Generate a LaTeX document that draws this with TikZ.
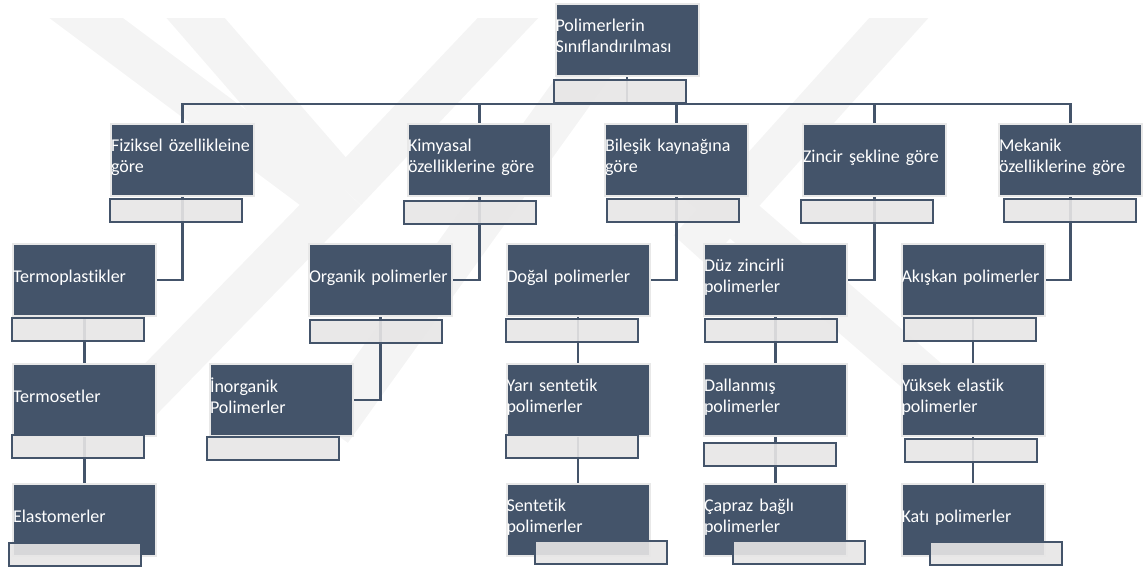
\documentclass[tikz,border=0pt]{standalone}
\usepackage{fontspec}
\setmainfont[Ligatures=NoCommon]{Carlito}
\usetikzlibrary{positioning}
\definecolor{boxblue}{HTML}{44546A}
\definecolor{barfill}{HTML}{E7E6E6}
\definecolor{boxedge}{HTML}{E8E8E8}
\definecolor{wmark}{HTML}{F4F4F4}
\pgfdeclarelayer{background}
\pgfsetlayers{background,main}
\tikzstyle{boxnode} = [rectangle, fill=boxblue, draw=boxedge, line width=2pt, minimum width=143pt, minimum height=72pt, text width=143pt, inner xsep=0pt, inner ysep=0pt, align=left, text=white, font=\fontsize{18}{21}\selectfont, execute at begin node={\hyphenpenalty=10000\hbadness=10000\hfuzz=20pt}, execute at end node={\rule[-8pt]{0pt}{1pt}}]
\tikzstyle{barnode} = [rectangle, fill=barfill, fill opacity=0.9, draw=boxblue, line width=2pt, minimum width=132pt, minimum height=23pt, inner sep=0pt]
\tikzstyle{link} = [draw=boxblue, line width=2.5pt]
\tikzstyle{wm} = [draw=wmark, line width=44pt]

\begin{document}
\begin{tikzpicture}[x=1pt, y=-1pt]
            \useasboundingbox (0,0) rectangle (1145,571);
            \begin{pgfonlayer}{background}
            \begin{scope}
            \clip (0,18) rectangle (1145,571);
            \draw[wm] (62,0) -- (330,200);
            \draw[wm] (180,0) -- (345,190);
            \draw[wm] (525,0) -- (345,190);
            \draw[wm] (345,190) -- (140,400);
            \draw[wm] (610,40) -- (330,430);
            \draw[wm] (915,0) -- (690,250);
            \draw[wm] (650,140) -- (950,400);
            \end{scope}
            \end{pgfonlayer}
            % top
            \node [boxnode] at (627,39.5) (root) {Polimerlerin\\Sınıflandırılması};
            \node [barnode, below right=2pt and -2pt of root.south west] (rootbar) {};
            % level 1
            \node [boxnode] at (182.5,160) (fiz) {Fiziksel özellikleine\\göre};
            \node [boxnode] at (479.5,160) (kim) {Kimyasal\\özelliklerine göre};
            \node [boxnode] at (676.5,160) (bil) {Bileşik kaynağına\\göre};
            \node [boxnode] at (874.5,160) (zin) {Zincir şekline göre};
            \node [boxnode] at (1070.5,160) (mek) {Mekanik\\özelliklerine göre};
            \node [barnode, below right=1pt and -1pt of fiz.south west] (fizbar) {};
            \node [barnode, below right=3pt and -4pt of kim.south west] (kimbar) {};
            \node [barnode, below right=1pt and 2pt of bil.south west] (bilbar) {};
            \node [barnode, below right=2pt and -2pt of zin.south west] (zinbar) {};
            \node [barnode, below right=1pt and 5pt of mek.south west] (mekbar) {};
            % level 2
            \node [boxnode] at (84.5,280) (tp) {Termoplastikler};
            \node [boxnode] at (380.5,280) (org) {Organik polimerler};
            \node [boxnode] at (578,280) (dog) {Doğal polimerler};
            \node [boxnode] at (775.5,280) (duz) {Düz zincirli\\polimerler};
            \node [boxnode] at (973,280) (aki) {Akışkan polimerler};
            \node [barnode, below right=0pt and -1pt of tp.south west] (tpbar) {};
            \node [barnode, below right=2pt and 1pt of org.south west] (orgbar) {};
            \node [barnode, below right=1pt and -1pt of dog.south west] (dogbar) {};
            \node [barnode, below right=1pt and 1pt of duz.south west] (duzbar) {};
            \node [barnode, below right=0pt and 2pt of aki.south west] (akibar) {};
            % level 3
            \node [boxnode] at (84.5,400) (ts) {Termosetler};
            \node [boxnode] at (281.5,400) (ino) {İnorganik\\Polimerler};
            \node [boxnode] at (578,400) (yari) {Yarı sentetik\\polimerler};
            \node [boxnode] at (775.5,400) (dal) {Dallanmış\\polimerler};
            \node [boxnode] at (973,400) (yuk) {Yüksek elastik\\polimerler};
            \node [barnode, below right=-3pt and -1pt of ts.south west] (tsbar) {};
            \node [barnode, below right=-1pt and -3pt of ino.south west] (inobar) {};
            \node [barnode, below right=-3pt and -1pt of yari.south west] (yaribar) {};
            \node [barnode, below right=5pt and 0pt of dal.south west] (dalbar) {};
            \node [barnode, below right=1pt and 3pt of yuk.south west] (yukbar) {};
            % level 4
            \node [boxnode] at (84.5,520) (ela) {Elastomerler};
            \node [boxnode] at (578,520) (sen) {Sentetik\\polimerler};
            \node [boxnode] at (775.5,520) (cap) {Çapraz bağlı\\polimerler};
            \node [boxnode] at (973,520) (kat) {Katı polimerler};
            \node [barnode, below right=-15pt and -4pt of ela.south west] (elabar) {};
            \node [barnode, below right=-17pt and 28pt of sen.south west] (senbar) {};
            \node [barnode, below right=-17pt and 29pt of cap.south west] (capbar) {};
            \node [barnode, below right=-16pt and 28pt of kat.south west] (katbar) {};
            \coordinate (hub) at (627,104);
            \begin{pgfonlayer}{background}
            \draw [link] (root.center) -- (hub);
            \draw [link] (fiz.center) |- (hub) -| (mek.center);
            \draw [link] (kim.center) -- (kim.center |- hub);
            \draw [link] (bil.center) -- (bil.center |- hub);
            \draw [link] (zin.center) -- (zin.center |- hub);
            \draw [link] (fiz.center) |- (tp.east);
            \draw [link] (kim.center) |- (org.east);
            \draw [link] (bil.center) |- (dog.east);
            \draw [link] (zin.center) |- (duz.east);
            \draw [link] (mek.center) |- (aki.east);
            \draw [link] (org.center) |- (ino.east);
            \draw [link] (tp.center) -- (ts.center) -- (ela.center);
            \draw [link] (dog.center) -- (yari.center) -- (sen.center);
            \draw [link] (duz.center) -- (dal.center) -- (cap.center);
            \draw [link] (aki.center) -- (yuk.center) -- (kat.center);
            \end{pgfonlayer}
            \end{tikzpicture}
\end{document}
